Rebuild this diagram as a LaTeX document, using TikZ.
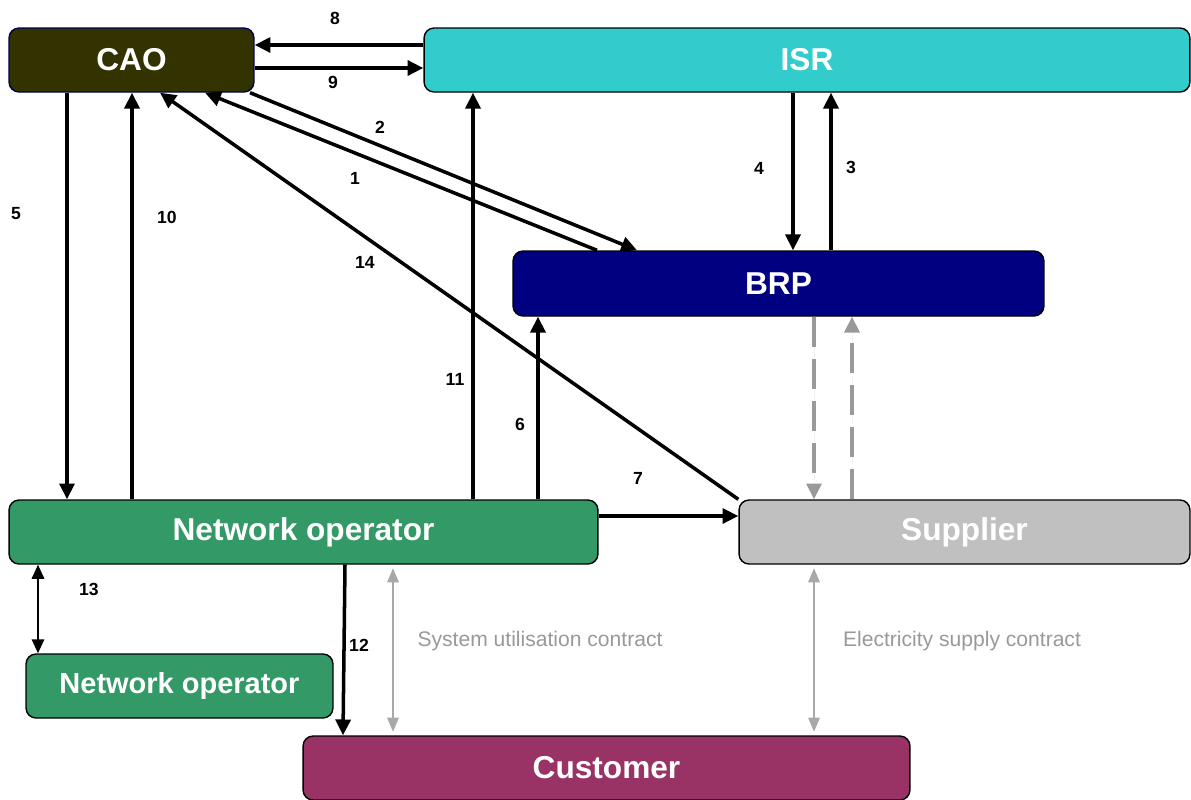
\documentclass[tikz,border=0pt]{standalone}
\usepackage{fontspec}
\setmainfont{Liberation Sans}
\usetikzlibrary{arrows.meta}
\definecolor{caocol}{HTML}{333300}
\definecolor{isrcol}{HTML}{33CCCC}
\definecolor{brpcol}{HTML}{000080}
\definecolor{netcol}{HTML}{339966}
\definecolor{supcol}{HTML}{C0C0C0}
\definecolor{cuscol}{HTML}{993366}
\definecolor{contcol}{HTML}{999999}
\tikzset{
  box/.style={draw=black, line width=0.8pt, rounded corners=0.2cm, text=white,
    font=\fontsize{18}{20}\selectfont\bfseries, minimum height=1.28cm, inner sep=0pt},
  num/.style={font=\fontsize{10}{12}\selectfont\bfseries},
  flow/.style={line width=2pt, -{Triangle[length=9pt,width=8.5pt]}},
  dflow/.style={flow, draw=contcol, fill=contcol, dash pattern=on 17pt off 7pt},
  contract/.style={draw=contcol!85, line width=0.9pt, {Triangle[length=8pt,width=6.5pt]}-{Triangle[length=8pt,width=6.5pt]}, shorten <=2pt, shorten >=2pt},
  conttext/.style={text=contcol, font=\fontsize{12}{14}\selectfont}
}
\begin{document}
\begin{tikzpicture}[x=0.02cm, y=-0.02cm]
    \useasboundingbox (0,0) rectangle (1191,799);
    \node[box, fill=caocol, draw=brpcol!60!black, minimum width=4.9cm] (cao) at (131.5,60) {CAO};
    \node[box, fill=isrcol, minimum width=15.32cm] (isr) at (807,60) {ISR};
    \node[box, fill=brpcol, minimum width=10.62cm, minimum height=1.3cm] (brp) at (778.5,283.5) {BRP};
    \node[box, fill=netcol, minimum width=11.78cm] (net) at (303.5,532) {Network operator};
    \node[box, fill=supcol, minimum width=9.02cm] (sup) at (964.5,532) {Supplier};
    \node[box, fill=netcol, minimum width=6.14cm, font=\fontsize{16.5}{18}\selectfont\bfseries] (net2) at (179.5,686) {Network operator};
    \node[box, fill=cuscol, minimum width=12.14cm] (cus) at (606.5,768) {Customer};
    % flows
    \draw[flow](isr.west |- 0,45)--(cao.east |- 0,45);
    \draw[flow](cao.east |- 0,68)--(isr.west |- 0,68);
    \draw[flow](cao.south -| 250,0)--(brp.north -| 637,0);
    \draw[flow](brp.north -| 597,0)--(cao.south -| 205,0);
    \draw[flow](sup.north west)--(cao.south -| 160,0);
    \draw[flow](cao.south -| 67,0)--(net.north -| 67,0);
    \draw[flow](net.north -| 132,0)--(cao.south -| 132,0);
    \draw[flow](net.north -| 473,0)--(isr.south -| 473,0);
    \draw[flow](net.north -| 538,0)--(brp.south -| 538,0);
    \draw[flow](net.east |- 0,516)--(sup.west |- 0,516);
    \draw[flow](isr.south -| 793,0)--(brp.north -| 793,0);
    \draw[flow](brp.north -| 831,0)--(isr.south -| 831,0);
    \draw[dflow](brp.south -| 814,0)--(sup.north -| 814,0);
    \draw[dflow](sup.north -| 852,0)--(brp.south -| 852,0);
    \draw[flow, line width=1.3pt, {Triangle[length=8pt,width=7pt]}-{Triangle[length=8pt,width=7pt]}](net.south -| 38,0)--(net2.north -| 38,0);
    \draw[flow](net.south -| 345,0)--(cus.north -| 343,0);
    \draw[contract](net.south -| 393,0)--(cus.north -| 393,0);
    \draw[contract](sup.south -| 814,0)--(cus.north -| 814,0);
    % labels
    \node[num] (l8) at (335,18) {8};
    \node[num] (l9) at (333,82) {9};
    \node[num] (l2) at (380,127) {2};
    \node[num] (l1) at (355,178) {1};
    \node[num] (l14) at (365,262) {14};
    \node[num] (l5) at (16,214) {5};
    \node[num] (l10) at (167,217) {10};
    \node[num] (l11) at (455,379) {11};
    \node[num] (l6) at (520,424) {6};
    \node[num] (l7) at (638,478) {7};
    \node[num] (l4) at (759,168) {4};
    \node[num] (l3) at (851,167) {3};
    \node[num] (l13) at (89,589) {13};
    \node[num] (l12) at (359,645) {12};
    \node[conttext] (suc) at (540,641) {System utilisation contract};
    \node[conttext] (esc) at (962,641) {Electricity supply contract};
\end{tikzpicture}
\end{document}
